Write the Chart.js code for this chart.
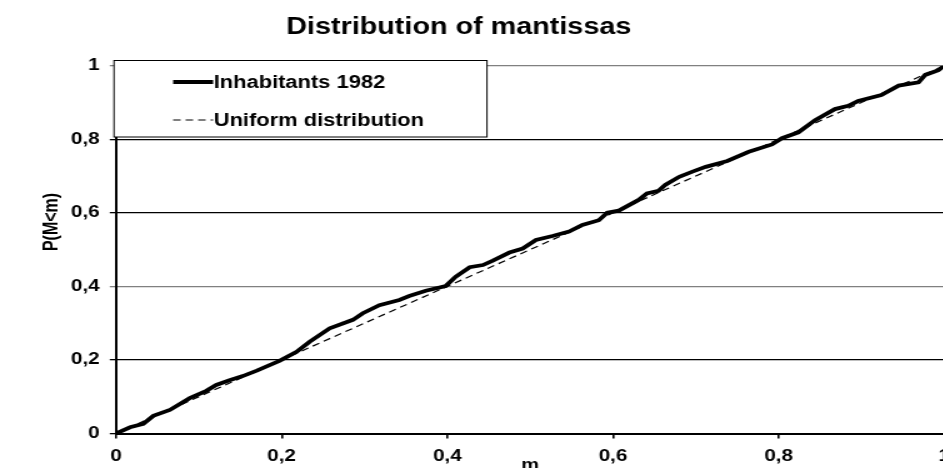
<!DOCTYPE html>
<html>
<head>
<meta charset="utf-8">
<title>Distribution of mantissas</title>
<script src="https://cdn.jsdelivr.net/npm/chart.js@4/dist/chart.umd.min.js"></script>
<style>
    html, body { margin: 0; padding: 0; background: #fff; overflow: hidden; }
    /* the original picture is stretched sideways, so draw narrow and widen it */
    #chart { display: block; transform: scaleX(1.25); transform-origin: 0 0; }
</style>
</head>
<body>
<canvas id="chart" width="768" height="468"></canvas>
<script>
// ===== DATA =====
const mValues = [0, 0.017, 0.033, 0.045, 0.065, 0.089, 0.109, 0.121, 0.137, 0.153, 0.170, 0.198,
    0.218, 0.234, 0.258, 0.286, 0.298, 0.318, 0.342, 0.354, 0.374, 0.398, 0.410, 0.427, 0.443,
    0.455, 0.475, 0.491, 0.507, 0.527, 0.547, 0.563, 0.583, 0.593, 0.607, 0.631, 0.641, 0.655,
    0.663, 0.680, 0.696, 0.712, 0.738, 0.764, 0.792, 0.804, 0.824, 0.844, 0.868, 0.884, 0.896,
    0.924, 0.945, 0.969, 0.977, 0.993, 1];
const inhabitants1982 = [0, 0.017, 0.026, 0.048, 0.064, 0.096, 0.116, 0.132, 0.145, 0.156, 0.171, 0.198,
    0.222, 0.250, 0.286, 0.309, 0.327, 0.349, 0.363, 0.374, 0.388, 0.401, 0.426, 0.452, 0.458,
    0.470, 0.492, 0.503, 0.526, 0.537, 0.549, 0.567, 0.580, 0.600, 0.606, 0.635, 0.653, 0.660,
    0.676, 0.698, 0.712, 0.725, 0.741, 0.766, 0.786, 0.803, 0.819, 0.852, 0.882, 0.891, 0.904,
    0.920, 0.946, 0.955, 0.975, 0.988, 1];
const uniformM = [0, 1];
const uniformP = [0, 1];
const xTicks = [0, 0.2, 0.4, 0.6, 0.8, 1];
const yTicks = [0, 0.2, 0.4, 0.6, 0.8, 1];
const seriesLabels = ['Inhabitants 1982', 'Uniform distribution'];

const FONT = "'Liberation Sans', Arial, sans-serif";

function toPoints(xs, ys) {
    return xs.map((x, i) => ({ x: x, y: ys[i] }));
}

function commaLabel(value) {
    return String(Math.round(value * 10) / 10).replace('.', ',');
}

// ===== TEXT + LEGEND BOX =====
const decorations = {
    id: 'decorations',
    afterDraw(chart) {
        const ctx = chart.ctx;
        const area = chart.chartArea;
        ctx.save();
        ctx.fillStyle = '#000';

        // title
        ctx.font = 'bold 23px ' + FONT;
        ctx.textAlign = 'center';
        ctx.textBaseline = 'alphabetic';
        ctx.fillText('Distribution of mantissas', 367, 34);

        // x axis title
        ctx.font = 'bold 16px ' + FONT;
        ctx.fillText('m', (area.left + area.right) / 2, 470);

        // y axis title
        ctx.save();
        ctx.translate(42, 222);
        ctx.rotate(-Math.PI / 2);
        ctx.textBaseline = 'middle';
        ctx.fillText('P(M<m)', 0, 0);
        ctx.restore();

        // legend box
        ctx.fillStyle = '#fff';
        ctx.strokeStyle = '#000';
        ctx.lineWidth = 1;
        ctx.fillRect(91.2, 60, 298.4, 77);
        ctx.strokeRect(91.2, 60.5, 298.4, 76.5);

        const rows = [88, 126];
        chart.data.datasets.forEach((ds, i) => {
            const y = rows[i] - 6;
            ctx.beginPath();
            ctx.strokeStyle = ds.borderColor;
            ctx.lineWidth = ds.borderWidth;
            ctx.setLineDash(ds.borderDash || []);
            ctx.moveTo(138.5, y);
            ctx.lineTo(170.5, y);
            ctx.stroke();
            ctx.setLineDash([]);
            ctx.fillStyle = '#000';
            ctx.font = 'bold 17.5px ' + FONT;
            ctx.textAlign = 'left';
            ctx.textBaseline = 'alphabetic';
            ctx.fillText(ds.label, 171, rows[i]);
        });
        ctx.restore();
    }
};

// ===== CHART =====
new Chart(document.getElementById('chart'), {
    type: 'line',
    data: {
        datasets: [{
            label: seriesLabels[0],
            data: toPoints(mValues, inhabitants1982),
            borderColor: '#000',
            borderWidth: 3.8,
            pointRadius: 0,
            tension: 0
        }, {
            label: seriesLabels[1],
            data: toPoints(uniformM, uniformP),
            borderColor: '#000',
            borderWidth: 1.2,
            borderDash: [6, 4],
            pointRadius: 0,
            tension: 0
        }]
    },
    options: {
        responsive: false,
        animation: false,
        layout: { padding: { top: 65.7, right: 12, left: 0, bottom: 0 } },
        plugins: {
            legend: { display: false },
            title: { display: false },
            tooltip: { enabled: false }
        },
        scales: {
            x: {
                type: 'linear',
                min: 0,
                max: 1,
                afterBuildTicks: scale => { scale.ticks = xTicks.map(v => ({ value: v })); },
                afterFit: scale => { scale.height = 34.5; },
                border: { color: '#000', width: 2 },
                grid: { drawOnChartArea: false, drawTicks: true, tickLength: 5, color: '#000', lineWidth: 1.6 },
                ticks: {
                    color: '#000',
                    padding: 8,
                    maxRotation: 0,
                    autoSkip: false,
                    font: { family: FONT, size: 16.5, weight: 'bold' },
                    callback: value => commaLabel(value)
                }
            },
            y: {
                min: 0,
                max: 1,
                afterBuildTicks: scale => { scale.ticks = yTicks.map(v => ({ value: v })); },
                afterFit: scale => { scale.width = 92.8; },
                border: { color: '#000', width: 2 },
                grid: {
                    drawTicks: true,
                    tickLength: 5,
                    lineWidth: 1.3,
                    color: c => (c.tick && (c.tick.value === 0.4 || c.tick.value === 1)) ? '#808080' : '#000'
                },
                ticks: {
                    color: '#000',
                    padding: 8,
                    font: { family: FONT, size: 16.5, weight: 'bold' },
                    callback: value => commaLabel(value)
                }
            }
        }
    },
    plugins: [decorations]
});
</script>
</body>
</html>
